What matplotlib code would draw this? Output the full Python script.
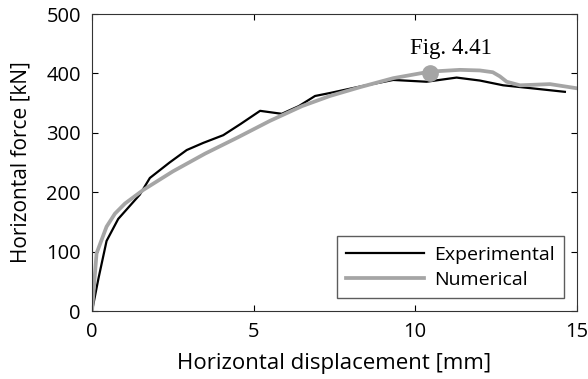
import matplotlib
matplotlib.use("Agg")
import matplotlib.pyplot as plt

plt.rcParams["font.family"] = ["Open Sans", "DejaVu Sans"]

# experimental curve
exp_x = [0, 0.2, 0.45, 0.81, 1.48, 1.79, 2.4, 2.93, 3.44, 4.06, 4.6, 5.2, 5.87, 6.4, 6.9, 7.36, 8.3, 9.32, 10.35, 11.28, 12.0, 12.72, 13.6, 14.63]
exp_y = [0, 55, 118, 155, 196, 224, 250, 271, 283, 296, 315, 337, 332, 345, 362, 367, 378, 389, 386, 393, 388, 380, 375, 369]

# numerical curve
num_x = [0, 0.14, 0.45, 0.71, 1.02, 1.59, 2.5, 3.5, 4.5, 5.5, 6.5, 7.36, 8.3, 9.32, 10.45, 11.38, 12.0, 12.4, 12.62, 12.83, 13.24, 14.17, 15.0]
num_y = [0, 97, 142, 164, 181, 204, 235, 265, 292, 320, 345, 362, 377, 392, 403, 406, 405, 402, 395, 386, 380, 382, 375]

marker_x = [10.46]
marker_y = [401]

fig = plt.figure(figsize=(5.88, 3.79), dpi=100)
ax = fig.add_axes([0.1565, 0.1794, 0.8245, 0.7836])

ax.plot(exp_x, exp_y, color="black", lw=1.6, label="Experimental")
ax.plot(num_x, num_y, color="#a5a5a5", lw=2.7, label="Numerical")
ax.plot(marker_x, marker_y, "o", color="#a5a5a5", ms=11, zorder=5)
ax.text(11.1, 442, "Fig. 4.41", family="Liberation Serif", fontsize=16.5, ha="center", va="center")

ax.set_xlim(0, 15)
ax.set_ylim(0, 500)
ax.set_xticks([0, 5, 10, 15])
ax.set_yticks([0, 100, 200, 300, 400, 500])
ax.tick_params(direction="in", top=True, right=True, labelsize=14.5, length=4, pad=8)
ax.set_xlabel("Horizontal displacement [mm]", fontsize=16, labelpad=8)
ax.set_ylabel("Horizontal force [kN]", fontsize=15, labelpad=11)
for s in ax.spines.values():
    s.set_color("#333333")

ax.legend(loc="lower right", fontsize=14, handlelength=4, handletextpad=0.5,
          frameon=True, fancybox=False, edgecolor="#333333",
          borderaxespad=0.65, borderpad=0.5, labelspacing=0.35)

fig.savefig("out.png")
